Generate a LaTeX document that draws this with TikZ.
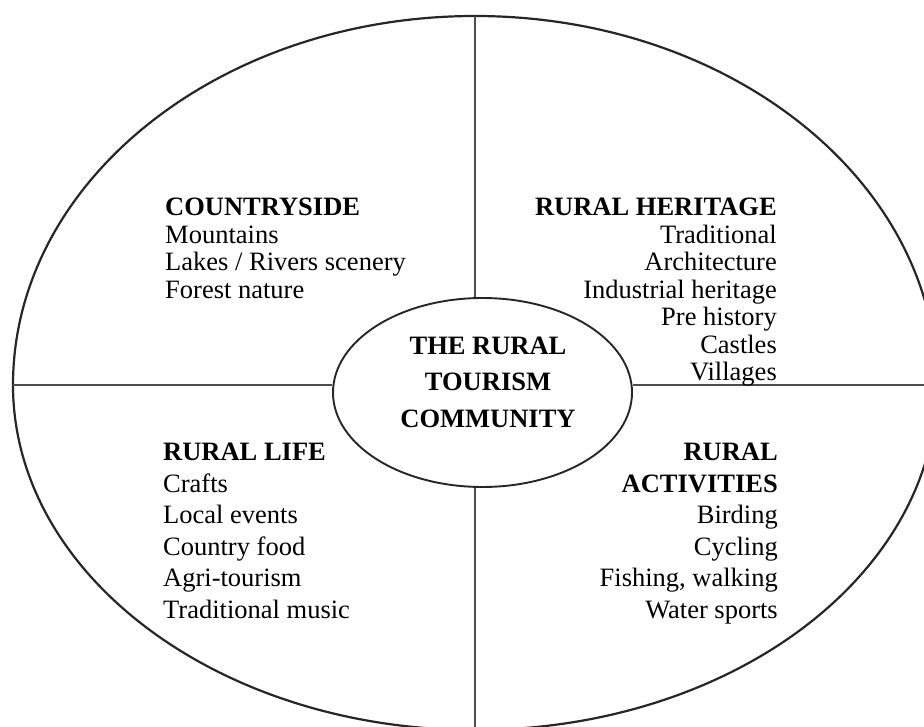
\documentclass[tikz,border=0pt]{standalone}
\usepackage{fontspec}
\setmainfont{Liberation Serif}
\usetikzlibrary{shapes.geometric}
\begin{document}
\begin{tikzpicture}[x=1pt,y=-1pt,
  rim/.style={line width=2.2pt,black!85},
  divider/.style={line width=1.4pt,black!70},
  block/.style={inner sep=0pt,font=\fontsize{26.5}{27.5}\selectfont},
  lowblock/.style={inner sep=0pt,font=\fontsize{26.5}{31.5}\selectfont}]
\useasboundingbox (0,0) rectangle (924,727);
\clip (0,0) rectangle (924,727);
% outer oval, a bit flatter below the middle line
\draw[rim] (13,385) arc[start angle=180,end angle=360,x radius=462,y radius=369]
  arc[start angle=0,end angle=180,x radius=462,y radius=345];
\coordinate (top) at (475,16);
\coordinate (bottom) at (475,730);
\coordinate (left) at (13,385);
\coordinate (right) at (940,385);
\node[draw,ellipse,line width=1.9pt,black!85,minimum width=299,minimum height=189,inner sep=0pt] (core) at (482.5,392.5) {};
\draw[divider] (top) -- (top |- core.north);
\draw[divider] (bottom |- core.south) -- (bottom);
\draw[divider] (left) -- (left -| core.west);
\draw[divider] (core.east |- right) -- (right);
% the five texts
\node[font=\fontsize{26.5}{36.5}\selectfont\bfseries,align=center,inner sep=0pt] (hub) at (488,382)
  {THE RURAL\\TOURISM\\COMMUNITY};
\node[block,align=left,anchor=north west] (countryside) at (165,198)
  {\textbf{COUNTRYSIDE}\\Mountains\\Lakes / Rivers scenery\\Forest nature};
\node[block,align=right,anchor=north east] (heritage) at (777,198)
  {\textbf{RURAL HERITAGE}\\Traditional\\Architecture\\Industrial heritage\\Pre history\\Castles\\Villages};
\node[lowblock,align=left,anchor=north west] (life) at (163,443)
  {\textbf{RURAL LIFE}\\Crafts\\Local events\\Country food\\Agri-tourism\\Traditional music};
\node[lowblock,align=right,anchor=north east] (activities) at (778,443)
  {\textbf{RURAL}\\\textbf{ACTIVITIES}\\Birding\\Cycling\\Fishing, walking\\Water sports};
\end{tikzpicture}
\end{document}
